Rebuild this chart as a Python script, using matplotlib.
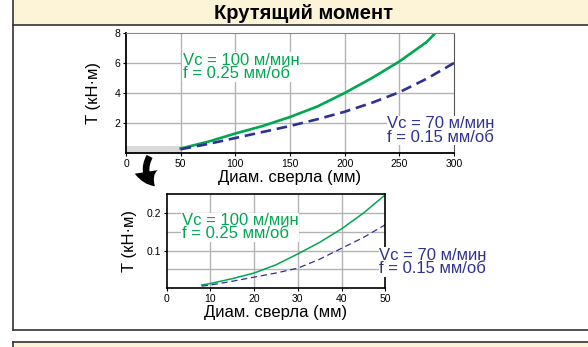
import numpy as np
import matplotlib.pyplot as plt
from matplotlib.patches import Rectangle, FancyArrowPatch

plt.rcParams['font.family'] = ['Liberation Sans', 'DejaVu Sans']

# top chart: large drills
d_big_green = [50, 75, 100, 125, 150, 175, 200, 225, 250, 275, 283]
t_big_green = [0.3, 0.75, 1.3, 1.8, 2.4, 3.1, 4.0, 5.0, 6.1, 7.4, 8.0]
d_big_blue = [50, 75, 100, 125, 150, 175, 200, 225, 250, 275, 300]
t_big_blue = [0.25, 0.6, 1.0, 1.4, 1.8, 2.25, 2.75, 3.35, 4.05, 4.95, 6.0]

# bottom chart: small drills (zoom)
d_small = [8, 10, 15, 20, 25, 30, 35, 40, 45, 50]
t_small_green = [0.008, 0.012, 0.025, 0.04, 0.062, 0.091, 0.122, 0.158, 0.2, 0.249]
t_small_blue = [0.005, 0.008, 0.018, 0.029, 0.04, 0.053, 0.077, 0.106, 0.135, 0.169]

big_xticks = [0, 50, 100, 150, 200, 250, 300]
big_yticks = [2, 4, 6, 8]
small_xticks = [0, 10, 20, 30, 40, 50]
small_yticks = [0.1, 0.2]

title = "Крутящий момент"
ylabel = "T (кН·м)"
xlabel = "Диам. сверла (мм)"
label_green = "Vc = 100 м/мин\nf = 0.25 мм/об"
label_blue = "Vc = 70 м/мин\nf = 0.15 мм/об"

GREEN = '#00a651'
BLUE = '#2e3192'
YELLOW = '#fdf3d6'
GRID = '#b3b3b3'
WHITE_BOX = dict(facecolor='white', edgecolor='none', pad=0.5)

W, H = 588, 347
fig = plt.figure(figsize=(W / 100, H / 100), dpi=100)

# background frame in pixel coords
bg = fig.add_axes([0, 0, 1, 1])
bg.set_xlim(0, W)
bg.set_ylim(H, 0)
bg.axis('off')
bg.add_patch(Rectangle((13, 0), W, 25, facecolor=YELLOW, edgecolor='none'))
bg.add_patch(Rectangle((13, 342), W, 10, facecolor=YELLOW, edgecolor='none'))
bg.plot([13, W], [25, 25], color='#333333', lw=1.2)
bg.plot([13, W], [330, 330], color='#333333', lw=1.2)
bg.plot([13, 13], [0, 330], color='#333333', lw=1.2)
bg.plot([13, W], [342, 342], color='#333333', lw=1.2)
bg.plot([13, 13], [342, H], color='#333333', lw=1.2)
bg.text(303, 13, title, ha='center', va='center', fontsize=14.5, fontweight='bold')

arrow = FancyArrowPatch((151, 154), (157, 188), connectionstyle="arc3,rad=0.45",
                        arrowstyle="simple,head_width=1.4,head_length=1.0,tail_width=0.4",
                        mutation_scale=12, color='black', lw=0)
bg.add_patch(arrow)


def style_axes(ax):
    ax.tick_params(labelsize=7.5, length=2, width=0.8, pad=2)
    ax.set_axisbelow(True)


# top chart
ax1 = fig.add_axes([126 / W, (H - 153) / H, 328 / W, 120 / H])
ax1.plot(d_big_green, t_big_green, color=GREEN, lw=1.9)
ax1.plot(d_big_blue, t_big_blue, color=BLUE, lw=1.9, dashes=(4, 2.2))
ax1.add_patch(Rectangle((0, 0), 50, 0.45, facecolor='#d9d9d9', edgecolor='none', zorder=0))
ax1.set_xlim(0, 300)
ax1.set_ylim(0, 8)
ax1.set_xticks(big_xticks)
ax1.set_yticks(big_yticks)
for x in big_xticks[1:-1]:
    ax1.axvline(x, color=GRID, lw=1, zorder=0)
for y in big_yticks[:-1]:
    ax1.axhline(y, color=GRID, lw=1, zorder=0)
for s in ['left', 'bottom']:
    ax1.spines[s].set_linewidth(1.3)
ax1.spines['top'].set_color('#888888')
ax1.spines['right'].set_color('#555555')
style_axes(ax1)
ax1.set_xlabel(xlabel, fontsize=12, labelpad=1)
ax1.set_ylabel(ylabel, fontsize=12, labelpad=10)
ax1.text(52, 5.75, label_green, color=GREEN, fontsize=12, va='center',
         linespacing=0.85, bbox=WHITE_BOX)
ax1.text(239, 1.5, label_blue, color=BLUE, fontsize=12, va='center',
         linespacing=0.85, bbox=WHITE_BOX, clip_on=False)

# bottom chart
ax2 = fig.add_axes([166.7 / W, (H - 288) / H, 218.6 / W, 94 / H])
ax2.plot(d_small, t_small_green, color=GREEN, lw=1.1)
ax2.plot(d_small, t_small_blue, color=BLUE, lw=0.9, dashes=(5, 3))
ax2.set_xlim(0, 50)
ax2.set_ylim(0, 0.251)
ax2.set_xticks(small_xticks)
ax2.set_yticks(small_yticks)
for x in small_xticks[1:-1]:
    ax2.axvline(x, color=GRID, lw=1, zorder=0)
for y in [0.05, 0.1, 0.15, 0.2]:
    ax2.axhline(y, color=GRID, lw=1, zorder=0)
for s in ax2.spines.values():
    s.set_linewidth(1.2)
style_axes(ax2)
ax2.set_xlabel(xlabel, fontsize=12, labelpad=1)
ax2.set_ylabel(ylabel, fontsize=12, labelpad=7)
ax2.text(3.4, 0.162, label_green, color=GREEN, fontsize=12, va='center',
         linespacing=0.85, bbox=WHITE_BOX)
ax2.text(48.6, 0.0695, label_blue, color=BLUE, fontsize=12, va='center',
         linespacing=0.85, bbox=WHITE_BOX, clip_on=False)

fig.savefig('out.png', dpi=100)
